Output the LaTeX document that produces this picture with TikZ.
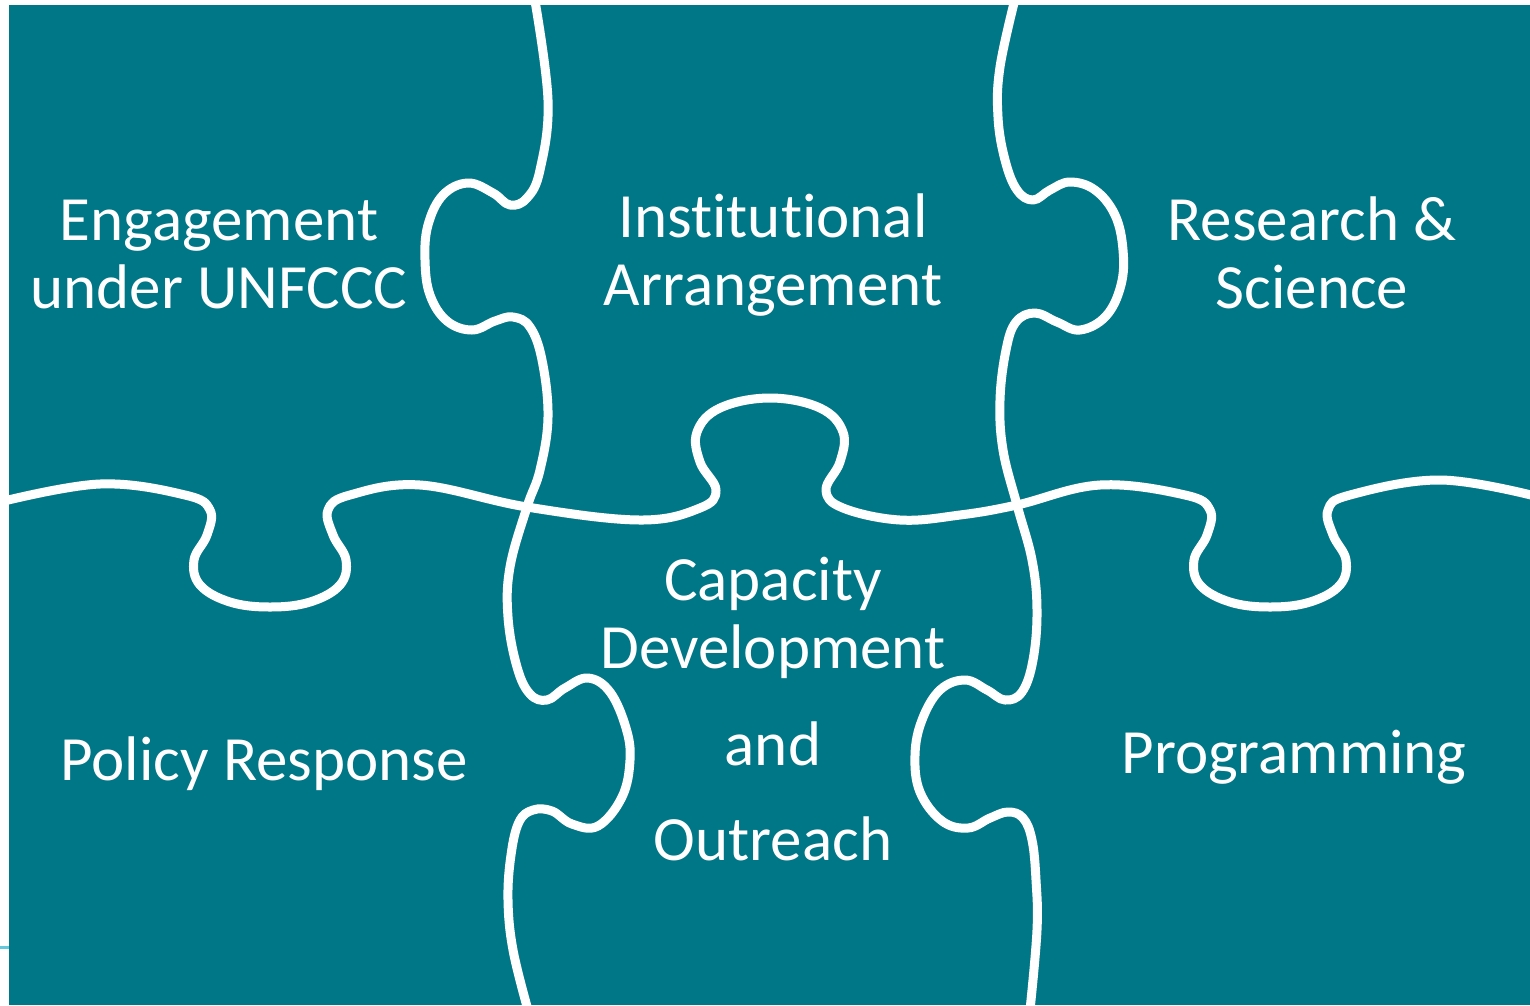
\documentclass[tikz,border=0pt]{standalone}
\usepackage{fontspec}
\setmainfont{Carlito}[Ligatures=NoCommon]
\definecolor{tealbg}{RGB}{0,119,134}
\definecolor{cyanmark}{RGB}{100,200,220}
\begin{document}
\begin{tikzpicture}[x=1pt,y=-1pt,
  puzzle/.style={draw=white, line width=9pt, line cap=round, line join=round},
  lbl/.style={text=white, font=\fontsize{63}{68}\selectfont, anchor=base, inner sep=0pt}]
\useasboundingbox (0,0) rectangle (1530,1005);
\fill[white] (0,0) rectangle (1530,1005);
\fill[tealbg] (9,5) rectangle (1530,1005);
\draw[cyanmark, line width=3pt] (0,947) -- (9,947);
\begin{scope}
\clip (9,5) rectangle (1530,1005);
% horizontal seam
\draw[puzzle] plot[smooth, tension=0.65] coordinates {
 (0,502) (100,484) (185,495) (210,510) (207,535) (194,560) (200,585) (230,602) (270,607)
 (310,602) (340,585) (346,560) (333,535) (328,510) (350,495) (420,485) (527,507)
 (640,520) (700,508) (716,490) (700,462) (697,432) (720,408) (770,398)
 (820,408) (843,432) (840,462) (826,490) (843,508) (900,520)
 (960,515) (1017,505) (1100,485) (1185,495) (1210,510) (1207,535) (1194,560)
 (1200,585) (1230,602) (1270,607) (1310,602) (1340,585) (1346,560) (1333,535)
 (1328,510) (1350,495) (1440,480) (1535,496)};
% left vertical seam
\draw[puzzle] plot[smooth, tension=0.65] coordinates {
 (534,-5) (548,100) (540,170) (527,198) (510,205) (493,193) (468,183) (443,195)
 (428,225) (425,260) (430,295) (447,321) (472,330) (495,321) (513,317) (530,327)
 (542,360) (548,417) (540,470) (527,507) (510,567) (508,617) (517,667) (530,694) (547,700)
 (565,688) (588,678) (610,692) (626,728) (630,760) (622,797) (598,826) (572,824)
 (552,811) (533,810) (519,822) (511,855) (508,900) (513,950) (528,1010)};
% right vertical seam
\draw[puzzle] plot[smooth, tension=0.65] coordinates {
 (1016,-5) (1000,67) (998,117) (1005,160) (1017,190) (1033,200) (1050,190)
 (1070,182) (1095,190) (1115,215) (1123,250) (1121,285) (1106,316) (1080,330)
 (1057,322) (1035,313) (1016,322) (1006,350) (1000,400) (1003,450)
 (1017,505) (1032,560) (1037,610) (1033,660) (1022,692) (1005,700) (987,690)
 (965,680) (940,690) (922,720) (915,755) (920,792) (942,821) (968,828)
 (990,818) (1008,812) (1023,818) (1032,840) (1036,880) (1037,930) (1030,1010)};
\end{scope}
\node[lbl] (eng1) at (219,240) {Engagement};
\node[lbl] (eng2) at (219,308) {under UNFCCC};
\node[lbl] (ins1) at (773,237) {Institutional};
\node[lbl] (ins2) at (773,305) {Arrangement};
\node[lbl] (res1) at (1312,240) {Research \&};
\node[lbl] (res2) at (1312,308) {Science};
\node[lbl] (cap1) at (773,600) {Capacity};
\node[lbl] (cap2) at (773,668) {Development};
\node[lbl] (cap3) at (773,765) {and};
\node[lbl] (cap4) at (773,860) {Outreach};
\node[lbl] (pol) at (264,780) {Policy Response};
\node[lbl] (prog) at (1294,773) {Programming};
\end{tikzpicture}
\end{document}
